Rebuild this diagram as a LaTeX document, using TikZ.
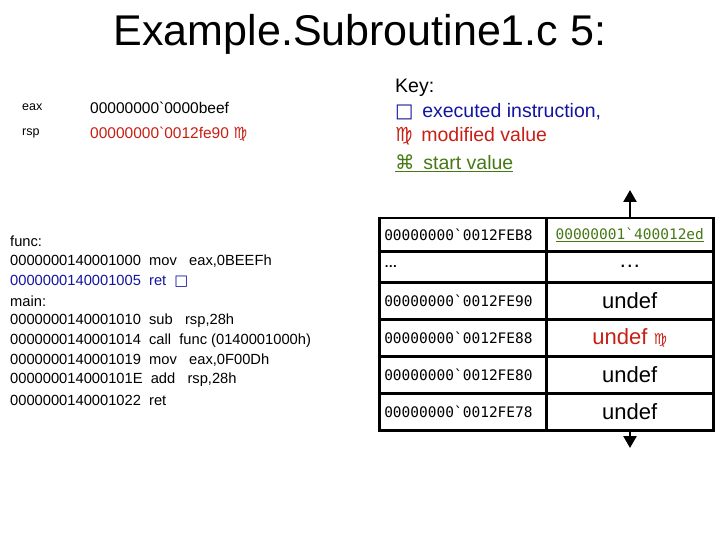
\documentclass[tikz,border=0pt]{standalone}
\usepackage{fontspec}
\setmainfont{Liberation Sans}
\newfontfamily\symfont{DejaVu Sans}
\newfontfamily\monofont{DejaVu Sans Mono}
\usetikzlibrary{arrows.meta, positioning}
\definecolor{execblue}{RGB}{20,20,160}
\definecolor{modred}{RGB}{200,30,20}
\definecolor{startgreen}{RGB}{70,120,20}
\newcommand{\bq}{\symbol{96}}

\begin{document}
\begin{tikzpicture}[x=1pt, y=-1pt,
    addrcell/.style={rectangle, draw=black, line width=2.5pt, minimum width=167pt, minimum height=#1, anchor=north west, inner sep=5pt, align=left, text width=157pt, font=\monofont\fontsize{14.5}{16}\selectfont},
    valcell/.style={rectangle, draw=black, line width=2.5pt, minimum width=167pt, minimum height=#1, anchor=north west, font=\fontsize{22}{24}\selectfont},
    codeline/.style={anchor=west, inner sep=0pt, font=\fontsize{14.7}{16}\selectfont},
    keyline/.style={anchor=west, inner sep=0pt, font=\fontsize{19.5}{22}\selectfont},
    arrow/.style={-{Triangle[length=12pt,width=13pt]}, line width=2.5pt}
]
\useasboundingbox (0,0) rectangle (720,540);

% ==== Title ====
\node[font=\fontsize{43}{46}\selectfont] (title) at (360,34) {Example.Subroutine1.c 5:};

% ==== Registers ====
\node[codeline, font=\fontsize{12.5}{14}\selectfont] (eaxname) at (22,107) {eax};
\node[codeline, font=\fontsize{15.5}{17}\selectfont] (eaxval) at (90,108) {00000000\textasciigrave 0000beef};
\node[codeline, font=\fontsize{12.5}{14}\selectfont] (rspname) at (22,133) {rsp};
\node[codeline, font=\fontsize{15.5}{17}\selectfont, text=modred] (rspval) at (90,134) {00000000\textasciigrave 0012fe90 {\symfont ♍}};

% ==== Key ====
\node[keyline] (key) at (395,88) {Key:};
\node[keyline, text=execblue] (keyexec) at (395,112) {{\symfont □}\, executed instruction,};
\node[keyline, text=modred] (keymod) at (395,136) {{\symfont ♍}\, modified value};
\node[keyline, text=startgreen] (keystart) at (395,163) {\underline{{\symfont ⌘}\, start value}};

% ==== Code listing ====
\node[codeline] (func) at (10,241) {func:};
\node[codeline] (c1) at (10,261) {0000000140001000\ \ mov\ \ \ eax,0BEEFh};
\node[codeline, text=execblue] (c2) at (10,281) {0000000140001005\ \ ret\ \ {\symfont □}};
\node[codeline] (main) at (10,301) {main:};
\node[codeline] (c3) at (10,321) {0000000140001010\ \ sub\ \ \ rsp,28h};
\node[codeline] (c4) at (10,341) {0000000140001014\ \ call\ \ func (0140001000h)};
\node[codeline] (c5) at (10,360) {0000000140001019\ \ mov\ \ \ eax,0F00Dh};
\node[codeline] (c6) at (10,380) {000000014000101E\ \ add\ \ \ rsp,28h};
\node[codeline] (c7) at (10,400) {0000000140001022\ \ ret};

% ==== Stack ====
\node[addrcell=33pt] (a1) at (378,217) {00000000\bq 0012FEB8};
\node[valcell=33pt, font=\monofont\fontsize{14.5}{16}\selectfont, text=startgreen] (v1) at (545,217) {\underline{00000001\bq 400012ed}};
\node[addrcell=31pt, font=\fontsize{13}{14}\selectfont\bfseries] (a2) at (378,250) {…};
\node[valcell=31pt] (v2) at (545,250) {…};
\node[addrcell=37pt] (a3) at (378,281) {00000000\bq 0012FE90};
\node[valcell=37pt] (v3) at (545,281) {undef};
\node[addrcell=37pt] (a4) at (378,318) {00000000\bq 0012FE88};
\node[valcell=37pt, text=modred] (v4) at (545,318) {undef {\symfont\fontsize{15}{16}\selectfont ♍}};
\node[addrcell=37pt] (a5) at (378,355) {00000000\bq 0012FE80};
\node[valcell=37pt] (v5) at (545,355) {undef};
\node[addrcell=37pt] (a6) at (378,392) {00000000\bq 0012FE78};
\node[valcell=37pt] (v6) at (545,392) {undef};

% ==== Stack arrows ====
\coordinate (topend) at (630,190);
\coordinate (botend) at (630,448);
\draw[arrow] (v1.north -| topend) -- (topend);
\draw[arrow] (v6.south -| botend) -- (botend);
\end{tikzpicture}
\end{document}
